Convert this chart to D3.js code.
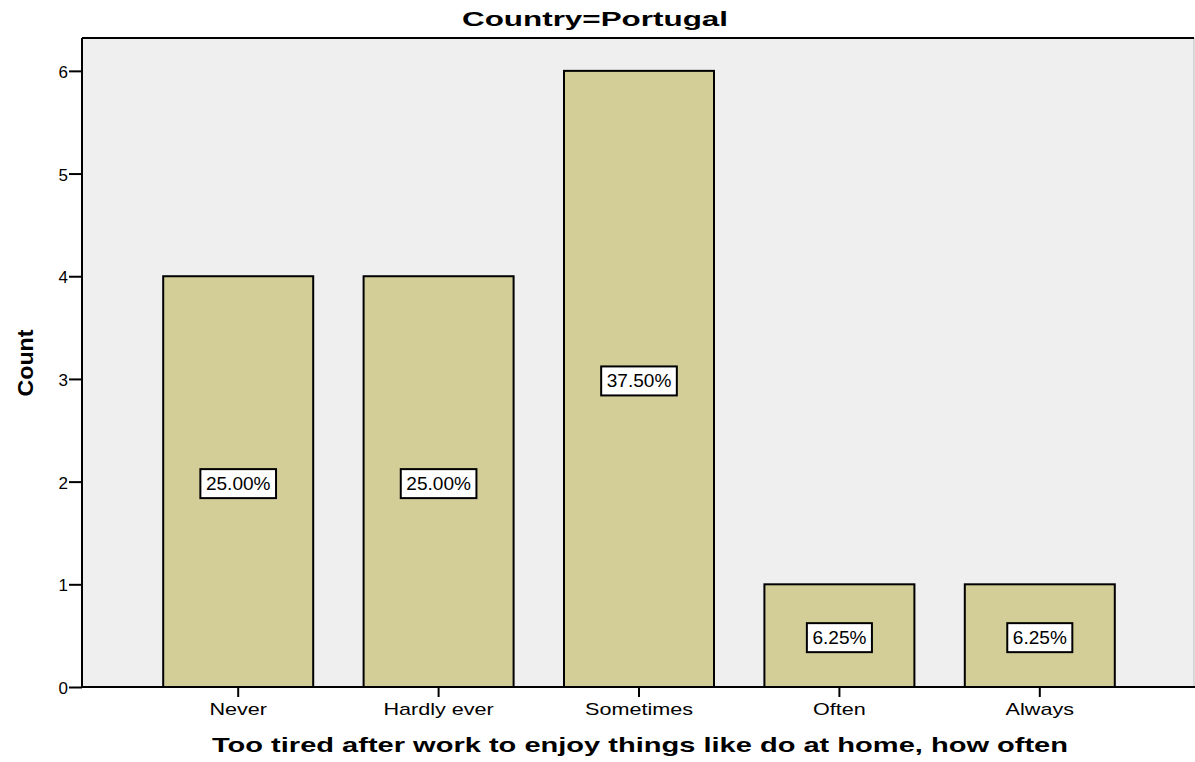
<!DOCTYPE html>
<html><head><meta charset="utf-8">
<script src="https://cdn.jsdelivr.net/npm/d3@7"></script>
<style>body{margin:0;background:#fff}svg{display:block}text{font-family:"Liberation Sans",Arial,sans-serif}</style>
</head><body><svg id="c" width="1195" height="762"></svg>
<script>
const categories = ["Never","Hardly ever","Sometimes","Often","Always"];
const counts = [4,4,6,1,1];
const percentLabels = ["25.00%","25.00%","37.50%","6.25%","6.25%"];
const yTicks = [0,1,2,3,4,5,6];
const title = "Country=Portugal";
const xTitle = "Too tired after work to enjoy things like do at home, how often";
const yTitle = "Count";

const svg = d3.select("#c");
const L=82, R=1194, T=38, B=687;
const x = d3.scaleBand().domain(categories).range([138,1140]).paddingInner(0.25).paddingOuter(0.125);
const y = d3.scaleLinear().domain([0, 6.32]).range([B, T]);

svg.append("rect").attr("x",L).attr("y",T).attr("width",R-L).attr("height",B-T).attr("fill","#efefef");
svg.append("line").attr("x1",R).attr("x2",R).attr("y1",T).attr("y2",B).attr("stroke","#bbb").attr("stroke-width",1);

const bw = 150;
svg.selectAll("rect.bar").data(categories).join("rect").attr("class","bar")
  .attr("x",d=>x(d)+x.bandwidth()/2-bw/2).attr("width",bw)
  .attr("y",(d,i)=>y(counts[i])).attr("height",(d,i)=>B-y(counts[i]))
  .attr("fill","#d3ce98").attr("stroke","#000").attr("stroke-width",2);

svg.append("line").attr("x1",L).attr("x2",R).attr("y1",T).attr("y2",T).attr("stroke","#000").attr("stroke-width",2);

const yAxis = svg.append("g").attr("transform",`translate(${L},0)`).call(d3.axisLeft(y).tickValues(yTicks).tickSize(13).tickPadding(1).tickFormat(d3.format("d")));
yAxis.select(".domain").attr("stroke-width",2).attr("d",`M0,${B}V${T}`);
yAxis.selectAll(".tick line").attr("stroke-width",2);
yAxis.selectAll(".tick text").attr("font-size",17).attr("fill","#000").attr("dy","0.38em");

const xAxis = svg.append("g").attr("transform",`translate(0,${B})`).call(d3.axisBottom(x).tickSize(10).tickPadding(0));
xAxis.select(".domain").attr("stroke-width",2).attr("d",`M${L},0H${R+1}`);
xAxis.selectAll(".tick line").attr("stroke-width",2);
xAxis.selectAll(".tick text").attr("font-size",17).attr("fill","#000")
  .attr("y",28).attr("dy",0).attr("transform","scale(1.27,1)");

const lg = svg.selectAll("g.lab").data(categories).join("g").attr("class","lab")
  .attr("transform",(d,i)=>`translate(${x(d)+x.bandwidth()/2},${y(counts[i]/2)+2})`);
lg.append("text").text((d,i)=>percentLabels[i]).attr("font-size",18).attr("text-anchor","middle").attr("dy","0.36em").attr("fill","#000").attr("transform","scale(1.06,1)");
lg.each(function(){
  const g=d3.select(this); const t=g.select("text").node().getBBox();
  const w=t.width*1.06+11;
  g.insert("rect","text").attr("x",-w/2).attr("y",-14.5).attr("width",w).attr("height",29)
   .attr("fill","#fff").attr("stroke","#000").attr("stroke-width",2);
});

svg.append("text").attr("x",595).attr("y",26).attr("text-anchor","middle").attr("font-size",21).attr("font-weight","bold")
  .attr("textLength",266).attr("lengthAdjust","spacingAndGlyphs").text(title);
svg.append("text").attr("x",640).attr("y",752).attr("text-anchor","middle").attr("font-size",21).attr("font-weight","bold")
  .attr("textLength",856).attr("lengthAdjust","spacingAndGlyphs").text(xTitle);
svg.append("text").attr("transform","translate(33,363) rotate(-90)").attr("text-anchor","middle").attr("font-size",22).attr("font-weight","bold")
  .attr("textLength",67).attr("lengthAdjust","spacingAndGlyphs").text(yTitle);
</script></body></html>
